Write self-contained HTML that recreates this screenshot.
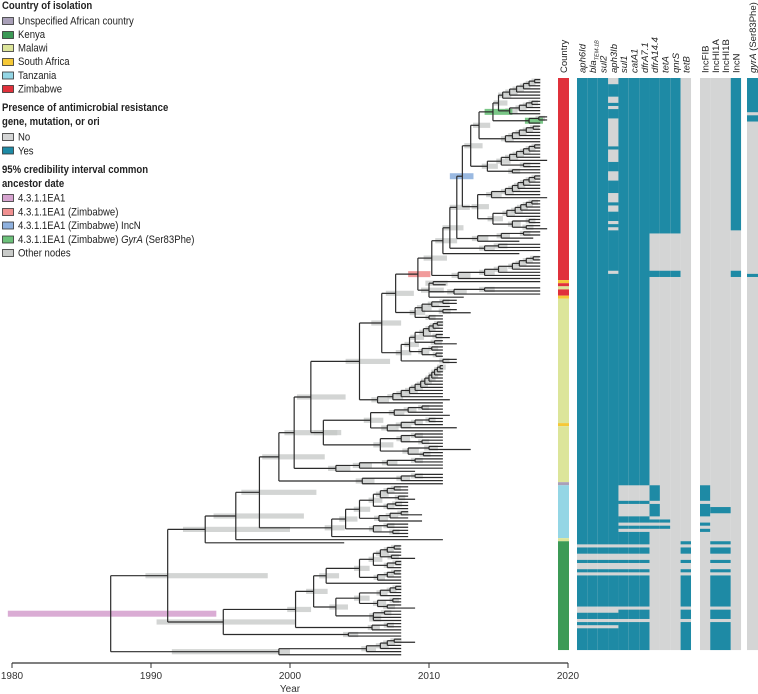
<!DOCTYPE html>
<html><head><meta charset="utf-8">
<style>
html,body{margin:0;padding:0;background:#fff;}
svg{display:block;font-family:"Liberation Sans",sans-serif;}
.lt{font-size:11px;fill:#222;}
.lb{font-size:11px;fill:#222;font-weight:bold;}
.hd{font-size:9.5px;fill:#222;}
.ax{font-size:10px;fill:#333;}
</style></head>
<body>
<svg id="fig" width="758" height="694" viewBox="0 0 758 694">
  <g id="legend">
    <rect x="2.5" y="17.5" width="11" height="7" fill="#a9a0b8" stroke="#333" stroke-width="0.8"/>
    <rect x="2.5" y="31.5" width="11" height="7" fill="#3c9a56" stroke="#333" stroke-width="0.8"/>
    <rect x="2.5" y="44.5" width="11" height="7" fill="#dce59a" stroke="#333" stroke-width="0.8"/>
    <rect x="2.5" y="58.5" width="11" height="7" fill="#f5c836" stroke="#333" stroke-width="0.8"/>
    <rect x="2.5" y="72" width="11" height="7" fill="#94d6e5" stroke="#333" stroke-width="0.8"/>
    <rect x="2.5" y="85.5" width="11" height="7" fill="#e0313b" stroke="#333" stroke-width="0.8"/>
    <rect x="2.5" y="133.5" width="11" height="7" fill="#d4d5d5" stroke="#333" stroke-width="0.8"/>
    <rect x="2.5" y="147" width="11" height="7" fill="#1e8aa5" stroke="#333" stroke-width="0.8"/>
    <rect x="2.5" y="194.5" width="11" height="7" fill="#d6a3cf" stroke="#333" stroke-width="0.8"/>
    <rect x="2.5" y="208.5" width="11" height="7" fill="#f09090" stroke="#333" stroke-width="0.8"/>
    <rect x="2.5" y="222" width="11" height="7" fill="#8fb1de" stroke="#333" stroke-width="0.8"/>
    <rect x="2.5" y="236" width="11" height="7" fill="#6cc17a" stroke="#333" stroke-width="0.8"/>
    <rect x="2.5" y="249.5" width="11" height="7" fill="#c9cbc9" stroke="#333" stroke-width="0.8"/>
    <g transform="scale(0.87 1)">
      <text class="lb" x="2.3" y="9">Country of isolation</text>
      <text class="lt" x="20.7" y="24.5">Unspecified African country</text>
      <text class="lt" x="20.7" y="38">Kenya</text>
      <text class="lt" x="20.7" y="51.5">Malawi</text>
      <text class="lt" x="20.7" y="65">South Africa</text>
      <text class="lt" x="20.7" y="79">Tanzania</text>
      <text class="lt" x="20.7" y="92.5">Zimbabwe</text>
      <text class="lb" x="2.3" y="111">Presence of antimicrobial resistance</text>
      <text class="lb" x="2.3" y="125">gene, mutation, or ori</text>
      <text class="lt" x="20.7" y="140.5">No</text>
      <text class="lt" x="20.7" y="154.5">Yes</text>
      <text class="lb" x="2.3" y="173">95% credibility interval common</text>
      <text class="lb" x="2.3" y="187">ancestor date</text>
      <text class="lt" x="20.7" y="201.5">4.3.1.1EA1</text>
      <text class="lt" x="20.7" y="215.5">4.3.1.1EA1 (Zimbabwe)</text>
      <text class="lt" x="20.7" y="229">4.3.1.1EA1 (Zimbabwe) IncN</text>
      <text class="lt" x="20.7" y="243">4.3.1.1EA1 (Zimbabwe) <tspan font-style="italic">GyrA</tspan> (Ser83Phe)</text>
      <text class="lt" x="20.7" y="256.5">Other nodes</text>
    </g>
  </g>
  <g id="ci"></g>
  <g id="tree"></g>
  <g id="heat"></g>
  <g id="heads"></g>
  <g id="axis"></g>
</svg>
<script>
// ---- Tree data (dates relative to 2000; label "date[lo;hi]colour") ----
const cladeGa = "((((((18,18)17.6,18)17.2,18)16.8,18)16.3,18)15.8,18)15.3";
const cladeGb = "((((18,18)17.4,18)17,18)16.5,18)15.8";
const cladeGc = "((18.5,18.5)17.9,18)17.2[16.9;18.2]g";
const cladeT1b = "(((((18,18)17.5,18)17,18)16.5,18)16,18)15.5";
const cladeT2 = "(((((((18,18)17.6,18)17.2,18)16.8,18)16.3,18.5)15.8,(18,18)16.8)15.2,(18,18)16)14.2";
const cladeP = "(((((((18,18)17.6,18)17.2,18)16.8,18)16.4,18)16,18)15.5,18.5)14.5";
const cladeQ = "((((((18,18)17.4,18)17,18)16.6,18)16.2,18)15.6,((18,18)17.2,(18,18.5)17)16)14.6";
const cladeZ4s = "(((18,18)16.8,17.5)15.2,16.5)13.5";
const cladeZ3s = "((18,18)15,18)14";
const cladeS1 = "(((((((18,18)17.5,18)17,18)16.5,18)16,18)15,18)14,18)12.1";
const cladeW = "((18,11.2)10.3,((18,18)14,18)11.8,12.5)10";
const cladeMa1 = "((((12,12)11,11.5)10.2,(12,13)11)9.5,(11,11)10)9";
const cladeJm = "(((((((11,11)10.6,11)10.3,11)10,(11,11.5)10.5)9.6,(11,12)10.4)9,((11,11)10.2,(11,11)10.5)9.5)8.6,(12,12)11)8";
const cladeM1 = "((((((((((((11,11)10.8,11)10.6,11)10.4,11)10.2,11)10,11)9.7,11)9.4,11)9,11)8.6,11)8,11.5)7.4,11)6.3";
const cladeM2 = "((((11,11)9.5,11)8.5,11.5)7.5,((((11,11)10,11)9,12)8,11)7)5.8";
const cladeM2b = "(((11,11)9,(11,11)9.5)8,((11,13)10,(11,11)9.6)8.5)6.5";
const cladeM3 = "((((11,11)9,11)7,11)5,9)3.3";
const cladeU = "(((11,11)9,11)8,11)5.2";
const cladeTz = "(((((((8.5,8.5)7.5,8.5)7,(8.5,9)7.8)6.5,((8.5,8.5)7.6,8.5)7)6,(((8.5,9.5)8,8.5)7.2,9.5)6.4)5,((8.5,8.5)7,(8.5,8.5)7.4)6)4,8.5)3";
const cladeKe = "((((((8,8)7.5,8)7,(8,9)7.3)6.5,((8,8)7.6,8)7)6,(((8,8)7.5,8)7,8)6.3)5,8)2.6";
const cladeKf = "(((((8,8)7.6,8)7.2,8)6.5,((8,8)7.4,(8,9)7)6.3)5,((8,8)6.8,(8,8)6)6)3.3";
const cladeKd = "((8,8)7,8)5.9";
const cladeKb = "(8,8)4.2";
const cladeK3 = "(((((8,9)7.5,8)7,8)6.5,8)5.5,8)-0.8[-8.5;0]";

const cladeG = "((" + cladeGa + "," + cladeGb + ")15," + cladeGc + ")14.6[14;16]g";
const cladeN = "(((" + cladeG + "," + cladeT1b + ")13.6," + cladeT2 + ")13,(" + cladeP + "," + cladeQ + ")13.5)12.4[11.5;13.2]b";
const cladeZim = "(((((" + cladeN + "," + cladeZ4s + ")12," + cladeZ3s + ")11.5,16.5)11," + cladeS1 + ")10.2," + cladeW + ")9.2[8.5;10.1]r";
const cladeH = "((((" + cladeZim + "," + cladeMa1 + ")7.6," + cladeJm + ")6.6," + cladeM1 + ")5[4;7.2],(" + cladeM2 + "," + cladeM2b + ")2.4)1.5[0.5;4]";
const cladeF = "((" + cladeH + "," + cladeM3 + ")0.3[-0.4;3.4]," + cladeU + ")-0.8[-2;2.5]";
const cladeC = "(((" + cladeF + "," + cladeTz + ")-2.2[-3.5;1.9],11)-3.9[-5.5;1],3.9)-6.1[-7.7;0]";
const cladeK1 = "(((" + cladeKe + "," + cladeKf + ")1.7," + cladeKd + ")0.4," + cladeKb + ")-4.8[-9.6;0.4]";
const treeString = "((" + cladeC + "," + cladeK1 + ")-8.8[-10.4;-1.6]," + cladeK3 + ")-12.9[-20.3;-5.3]p";

// ---- Country column data (row ranges) ----
const countryRuns = [[0,65,"Zimbabwe"],[65,66,"South Africa"],[66,67,"Zimbabwe"],[67,68,"Malawi"],[68,70,"Zimbabwe"],[70,71,"South Africa"],[71,111,"Malawi"],[111,112,"South Africa"],[112,130,"Malawi"],[130,131,"Unspecified"],[131,148,"Tanzania"],[148,149,"Malawi"],[149,184,"Kenya"]];

// ---- AMR presence runs (row ranges where "Yes") ----
const coreEarly = [[0,150],[151,153],[155,156],[158,159],[160,170],[172,174],[175,176],[177,184]];
const coreLate = [[0,131],[136,137],[141,143],[144,145],[146,150],[151,153],[155,156],[158,159],[160,170],[171,174],[175,184]];
const aph3IbGaps = [[0,2],[6,8],[9,10],[13,22],[23,27],[30,33],[37,40],[41,43],[46,47],[48,49],[62,63]];
const dfrA14Runs = [[0,50],[62,64],[131,136],[137,141],[142,143],[144,145]];
const tetARuns = [[0,50],[62,64],[142,143],[144,145]];
const qnrSRuns = [[0,50],[62,64]];
const tetBRuns = [[149,150],[151,153],[155,156],[158,159],[160,170],[171,174],[175,184]];
const incFIBRuns = [[131,136],[137,141],[143,144],[145,146]];
const incHIRuns = [[138,140],[149,150],[151,153],[155,156],[158,159],[160,170],[171,174],[175,184]];
const incNRuns = [[0,49],[62,64]];
const gyrARuns = [[0,11],[12,14],[63,64]];

const geneNames = ["aph6Id","blaTEM-1B","sul2","aph3Ib","sul1","catA1","dfrA7.1","dfrA14.4","tetA","qnrS","tetB"];
const incNames = ["IncFIB","IncHI1A","IncHI1B","IncN"];
const yearTicks = [1980,1990,2000,2010,2020];

// ---- Scales ----
const NS = "http://www.w3.org/2000/svg";
const TOP = 78, ROWH = 3.109;
const xYear = y => 12 + (y - 1980) * 13.9;
const xRel = d => xYear(2000 + d);
const yRow = r => TOP + r * ROWH;
function mk(tag, attrs, parent){ const e=document.createElementNS(NS,tag); for(const k in attrs) e.setAttribute(k,attrs[k]); parent.appendChild(e); return e; }

// ---- Parse tree ----
function parseTree(s){
  let i=0;
  function label(){
    let j=i, depth=0;
    while(j<s.length){ const c=s[j]; if(c==='[')depth++; else if(c===']')depth--; else if(depth===0&&(c===','||c===')'))break; j++; }
    const t=s.slice(i,j); i=j;
    const m=t.match(/^(-?[\d.]+)(?:\[(-?[\d.]+);(-?[\d.]+)\])?([prbg])?$/);
    if(!m) return {d:0,lo:null,hi:null,c:null};
    return {d:parseFloat(m[1]), lo:m[2]!==undefined?parseFloat(m[2]):null, hi:m[3]!==undefined?parseFloat(m[3]):null, c:m[4]||null};
  }
  function node(){
    if(s[i]==='('){ i++; const ch=[node()]; while(s[i]===','){ i++; ch.push(node()); } i++; const n=label(); n.ch=ch; return n; }
    return label();
  }
  return node();
}
const root = parseTree(treeString);
let leafIdx=0;
function layout(n){
  if(!n.ch){ n.y = yRow(leafIdx + 0.5); n.max=n.d; leafIdx++; return; }
  n.ch.forEach(layout);
  n.y = (n.ch[0].y + n.ch[n.ch.length-1].y)/2;
  n.max = Math.max(...n.ch.map(c=>c.max));
}
layout(root);

const gCI=document.getElementById('ci'), gTree=document.getElementById('tree');
const ciCol={p:"#d6a3cf",r:"#f09090",b:"#8fb1de",g:"#6cc17a"};
const colored=[];
function draw(n,parent){
  const x=xRel(n.d);
  if(parent){
    const hl=mk('line',{x1:xRel(parent.d),x2:x,y1:n.y,y2:n.y,stroke:"#2b2b2b","stroke-width":1.2},gTree);
    
    
  }
  if(n.ch){
    let lo=n.lo, hi=n.hi;
    if(lo===null){ const w=0.6+0.13*(n.max-n.d); lo=n.d-0.35*w; hi=n.d+0.65*w; }
    if(n.c) colored.push([n,lo,hi]);
    else {
      const r=mk('rect',{x:xRel(lo),y:n.y-2.6,width:xRel(hi)-xRel(lo),height:5.2,fill:"#c4c7c5","fill-opacity":0.75},gCI);
      
      
    }
    const vl=mk('line',{x1:x,x2:x,y1:n.ch[0].y,y2:n.ch[n.ch.length-1].y,stroke:"#2b2b2b","stroke-width":1.2},gTree);
    
    
    n.ch.forEach(c=>draw(c,n));
  }
}
draw(root,null);
colored.forEach(([n,lo,hi])=>{
  const r=mk('rect',{x:xRel(lo),y:n.y-3,width:xRel(hi)-xRel(lo),height:6,fill:ciCol[n.c],"fill-opacity":0.9},gCI);
  
  
});

// ---- Heatmap ----
const gHeat=document.getElementById('heat');
const NROWS=184, BLUE="#1e8aa5", GREY="#d4d5d5";
const countryColor={"Zimbabwe":"#e0313b","South Africa":"#f5c836","Malawi":"#dce59a","Unspecified":"#a9a0b8","Tanzania":"#94d6e5","Kenya":"#3c9a56"};
countryRuns.forEach(([s,e,c])=>{
  const r=mk('rect',{x:558,y:yRow(s),width:11,height:(e-s)*ROWH,fill:countryColor[c]},gHeat);
  
  
});
const geneW=10.36, incW=10.25;
const geneRuns=[coreEarly,coreEarly,coreEarly,coreEarly,coreLate,coreLate,coreLate,dfrA14Runs,tetARuns,qnrSRuns,tetBRuns];
const incRuns=[incFIBRuns,incHIRuns,incHIRuns,incNRuns];
function column(x,w,runs,gaps,name){
  const bg=mk('rect',{x:x,y:TOP,width:w,height:NROWS*ROWH,fill:GREY},gHeat);
  
  
  runs.forEach(([s,e])=>{
    const r=mk('rect',{x:x,y:yRow(s),width:w,height:(e-s)*ROWH,fill:BLUE},gHeat);
    
    
  });
  (gaps||[]).forEach(([s,e])=>{
    const r=mk('rect',{x:x,y:yRow(s),width:w,height:(e-s)*ROWH,fill:GREY},gHeat);
    
    
  });
}
geneNames.forEach((g,i)=>column(577+i*geneW,geneW+0.05,geneRuns[i],i===3?aph3IbGaps:null,g));
incNames.forEach((g,i)=>column(700+i*incW,incW+0.05,incRuns[i],null,g));
column(747,11,gyrARuns,null,'gyrA');

// ---- Headers ----
const gH=document.getElementById('heads');
function vtext(cx,content,name,italic,size){
  const t=mk('text',{class:'hd',transform:`translate(${cx+3.5},73) rotate(-90)`},gH);
  if(size) t.setAttribute('font-size',size);
  if(italic) t.setAttribute('font-style','italic');
  
  
  t.innerHTML=content; return t;
}
vtext(563.5,'Country','header-country',false);
geneNames.forEach((g,i)=>{
  const cx=577+geneW*(i+0.5);
  const content = g==="blaTEM-1B" ? 'bla<tspan font-size="5.5" dy="2.5">TEM-1B</tspan>' : g;
  vtext(cx,content,'header-'+g.toLowerCase().replace(/[^a-z0-9]+/g,'-'),true);
});
incNames.forEach((g,i)=>vtext(700+incW*(i+0.5),g,'header-'+g.toLowerCase(),false));
vtext(752.5,'<tspan font-style="italic">gyrA</tspan> (Ser83Phe)','header-gyra',false,'8.8px');

// ---- Axis ----
const gA=document.getElementById('axis');
const al=mk('line',{x1:xYear(1980),x2:xYear(2020),y1:663,y2:663,stroke:"#333","stroke-width":1.2},gA);


yearTicks.forEach(y=>{
  const tk=mk('line',{x1:xYear(y),x2:xYear(y),y1:663,y2:668,stroke:"#333","stroke-width":1},gA);
  
  
  const tl=mk('text',{class:'ax',x:xYear(y),y:679,"text-anchor":"middle"},gA);
  
  
  tl.textContent=y;
});
const at=mk('text',{class:'ax',x:290,y:692,"text-anchor":"middle"},gA);


at.textContent='Year';
</script>
</body></html>
